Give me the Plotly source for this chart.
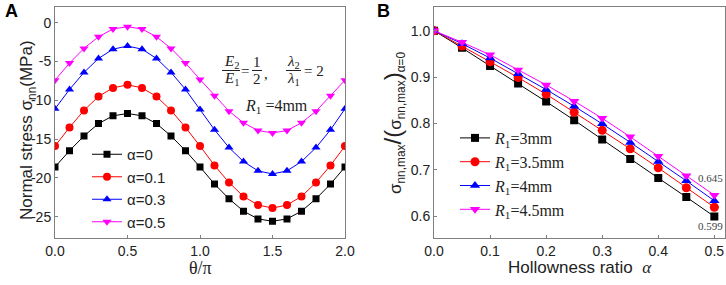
import plotly.graph_objects as go

# ---------------- Data: panel A ----------------
theta = [0.0, 0.1, 0.2, 0.3, 0.4, 0.5, 0.6, 0.7, 0.8, 0.9, 1.0,
         1.1, 1.2, 1.3, 1.4, 1.5, 1.6, 1.7, 1.8, 1.9, 2.0]
stress_a0 = [-18.6, -16.5, -14.6, -13.0, -12.0, -11.7, -12.0, -13.0, -14.6, -16.5, -18.6,
             -20.8, -22.7, -24.3, -25.3, -25.6, -25.3, -24.3, -22.7, -20.8, -18.6]
stress_a01 = [-15.9, -13.5, -11.3, -9.5, -8.4, -8.0, -8.4, -9.5, -11.3, -13.5, -15.9,
              -18.4, -20.6, -22.4, -23.5, -23.9, -23.5, -22.4, -20.6, -18.4, -15.9]
stress_a03 = [-11.1, -8.6, -6.4, -4.6, -3.4, -3.0, -3.4, -4.6, -6.4, -8.6, -11.2,
              -13.8, -16.1, -17.9, -19.1, -19.5, -19.1, -17.9, -16.1, -13.8, -11.1]
stress_a05 = [-7.4, -5.2, -3.3, -1.8, -0.8, -0.5, -0.8, -1.8, -3.3, -5.2, -7.3,
              -9.4, -11.4, -12.9, -13.9, -14.2, -13.9, -12.9, -11.4, -9.4, -7.4]
names_a = ["α=0", "α=0.1", "α=0.3", "α=0.5"]
xticks_a = [0.0, 0.5, 1.0, 1.5, 2.0]
xticklabels_a = ["0.0", "0.5", "1.0", "1.5", "2.0"]
yticks_a = [0, -5, -10, -15, -20, -25]
yticklabels_a = ["0", "-5", "-10", "-15", "-20", "-25"]

# ---------------- Data: panel B ----------------
alpha = [0.0, 0.05, 0.1, 0.15, 0.2, 0.25, 0.3, 0.35, 0.4, 0.45, 0.5]
ratio_r3 = [1.0, 0.963, 0.924, 0.886, 0.847, 0.807, 0.765, 0.723, 0.682, 0.641, 0.599]
ratio_r35 = [1.0, 0.967, 0.933, 0.899, 0.863, 0.824, 0.785, 0.745, 0.704, 0.661, 0.619]
ratio_r4 = [1.0, 0.972, 0.941, 0.907, 0.873, 0.837, 0.799, 0.759, 0.718, 0.676, 0.633]
ratio_r45 = [1.0, 0.975, 0.948, 0.915, 0.883, 0.848, 0.811, 0.771, 0.729, 0.687, 0.645]
names_b = ["<i>R</i><sub>1</sub>=3mm", "<i>R</i><sub>1</sub>=3.5mm",
           "<i>R</i><sub>1</sub>=4mm", "<i>R</i><sub>1</sub>=4.5mm"]
xticks_b = [0.0, 0.1, 0.2, 0.3, 0.4, 0.5]
yticks_b = [0.6, 0.7, 0.8, 0.9, 1.0]
end_labels_b = ["0.645", "0.599"]

colors = ["#000000", "#ff0000", "#0000ff", "#ff00ff"]
symbols = ["square", "circle", "triangle-up", "triangle-down"]
sizes_a = [7, 8, 8, 8]
sizes_b = [8, 9, 9, 9]

W, H = 726, 285
def px(x):
    return x / W
def py(y):
    return 1 - y / H

fig = go.Figure()

for ys, name, c, s, ms in zip([stress_a0, stress_a01, stress_a03, stress_a05],
                              names_a, colors, symbols, sizes_a):
    fig.add_trace(go.Scatter(x=theta, y=ys, name=name, mode="lines+markers",
                             line=dict(color=c, width=1),
                             marker=dict(symbol=s, size=ms, color=c),
                             xaxis="x", yaxis="y", legend="legend"))

for ys, name, c, s, ms in zip([ratio_r3, ratio_r35, ratio_r4, ratio_r45],
                              names_b, colors, symbols, sizes_b):
    fig.add_trace(go.Scatter(x=alpha, y=ys, name=name, mode="lines+markers",
                             line=dict(color=c, width=1),
                             marker=dict(symbol=s, size=ms, color=c),
                             xaxis="x2", yaxis="y2", legend="legend2"))

axis_common = dict(showline=True, linecolor="#7f7f7f", linewidth=1, mirror=True,
                   ticks="inside", ticklen=3, tickcolor="#7f7f7f", showgrid=False,
                   zeroline=False, automargin=False,
                   tickfont=dict(family="Liberation Sans", size=14, color="#222"))

ydom = [py(238.3), py(7.3)]

fig.update_layout(
    width=W, height=H, margin=dict(l=0, r=0, t=0, b=0, autoexpand=False),
    plot_bgcolor="white", paper_bgcolor="white",
    xaxis=dict(domain=[px(55), px(345)], range=[0, 2], tickvals=xticks_a,
               ticktext=xticklabels_a, anchor="y", **axis_common),
    yaxis=dict(domain=ydom, range=[-27.8, 2.0], tickvals=yticks_a,
               ticktext=yticklabels_a, anchor="x", **axis_common),
    xaxis2=dict(domain=[px(434), px(725)], range=[0, 0.519], tickvals=xticks_b,
                tickformat=".1f", anchor="y2", **axis_common),
    yaxis2=dict(domain=ydom, range=[0.552, 1.0505], tickvals=yticks_b,
                tickformat=".1f", anchor="x2", **axis_common),
    legend=dict(x=px(87), y=py(138), xanchor="left", yanchor="top",
                bgcolor="rgba(0,0,0,0)", tracegroupgap=0,
                font=dict(family="Liberation Sans", size=15, color="#222")),
    legend2=dict(x=px(455), y=py(121), xanchor="left", yanchor="top",
                 bgcolor="rgba(0,0,0,0)", tracegroupgap=0,
                 font=dict(family="Liberation Serif", size=16, color="#222")),
    showlegend=True,
)

anns = []
def ann(x, y, text, size=15, family="Liberation Serif", color="#222", **kw):
    anns.append(dict(x=px(x), y=py(y), xref="paper", yref="paper", text=text,
                     showarrow=False, font=dict(family=family, size=size, color=color),
                     xanchor=kw.get("xanchor", "center"), yanchor=kw.get("yanchor", "middle")))

# Panel labels
ann(3, 11, "<b>A</b>", size=18, family="Liberation Sans", color="#000", xanchor="left")
ann(375, 11, "<b>B</b>", size=18, family="Liberation Sans", color="#000", xanchor="left")

# Axis titles
ann(200, 268, "θ/π", size=18)
anns.append(dict(x=px(15), y=py(130), xref="paper", yref="paper", textangle=-90,
                 text="Normal stress σ<sub>nn</sub>(MPa)", showarrow=False,
                 font=dict(family="Liberation Sans", size=17, color="#222")))
ann(580, 267, "Hollowness ratio  <span style='font-family:Liberation Serif'><i>α</i></span>",
    size=17, family="Liberation Sans")
anns.append(dict(x=px(393), y=py(123), xref="paper", yref="paper", textangle=-90,
                 text="σ<sub>nn,max</sub><span style='font-size:24px'>/(</span>σ<sub>nn,max</sub>"
                      "<span style='font-size:24px'>)</span><sub>α=0</sub>",
                 showarrow=False, font=dict(family="Liberation Sans", size=17, color="#222")))

# Fractions in panel A
ann(231, 62, "<i>E</i><sub>2</sub>", size=15)
ann(231, 79, "<i>E</i><sub>1</sub>", size=15)
ann(245, 70.5, "=", size=15)
ann(257, 62, "1", size=15)
ann(257, 79, "2", size=15)
ann(266, 74, ",", size=15)
ann(293, 62, "<i>λ</i><sub>2</sub>", size=15)
ann(293, 79, "<i>λ</i><sub>1</sub>", size=15)
ann(314, 70.5, "= 2", size=15)
ann(276, 106, "<i>R</i><sub>1</sub> =4mm", size=16)

# End labels panel B
ann(710, 178, end_labels_b[0], size=11, color="#444")
ann(710, 226, end_labels_b[1], size=11, color="#444")

fig.update_layout(annotations=anns)

shapes = []
for x0, x1 in [(222, 240), (252, 262), (286, 301)]:
    shapes.append(dict(type="line", xref="paper", yref="paper", x0=px(x0), x1=px(x1),
                       y0=py(70.5), y1=py(70.5), line=dict(color="#222", width=1)))
fig.update_layout(shapes=shapes)

fig.write_html("out.html", config={"displayModeBar": False},
               post_script="document.body.style.margin='0';document.body.style.overflow='hidden';")
